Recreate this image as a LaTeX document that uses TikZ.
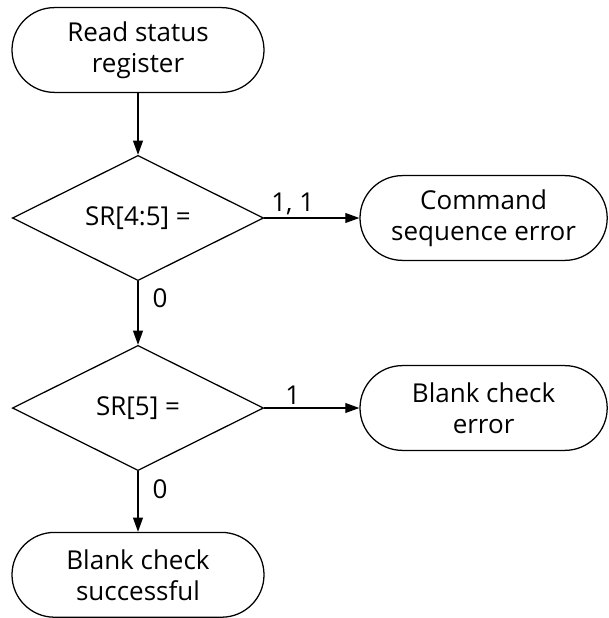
\documentclass[tikz,border=0pt]{standalone}
\usepackage{fontspec}
\setmainfont{Open Sans}
\usetikzlibrary{positioning, arrows.meta, calc, shapes.geometric}

\begin{document}
\begin{tikzpicture}[font=\fontsize{18.5}{22}\selectfont,
      term/.style={draw, line width=0.9pt, rounded corners=1.06cm, minimum width=6.3cm, minimum height=2.12cm, align=center, inner sep=0pt},
      decide/.style={draw, line width=0.9pt, diamond, aspect=2, minimum width=6.28cm, minimum height=3.13cm, inner sep=0pt},
      arr/.style={-{Triangle[length=10pt, width=7pt]}, line width=0.9pt},
      lbl/.style={inner sep=2pt}]
    \useasboundingbox (0,0) rectangle (15.2,-15.45);
    \node[term] (read) at (3.45,-1.25) {Read status\\register};
    \node[decide] (sr45) at (3.45,-5.45) {SR[4:5] =};
    \node[term, minimum width=6.18cm] (cmderr) at (12.09,-5.45) {Command\\sequence error};
    \node[decide] (sr5) at (3.45,-10.2) {SR[5] =};
    \node[term, minimum width=6.18cm] (blkerr) at (12.09,-10.2) {Blank check\\error};
    \node[term] (blkok) at (3.45,-14.37) {Blank check\\successful};
    \draw[arr] (read)--(sr45);
    \draw[arr] (sr45)--(cmderr) node[pos=0.3, above, lbl]{1, 1};
    \draw[arr] (sr45)--(sr5) node[pos=0.27, right=8pt, lbl]{0};
    \draw[arr] (sr5)--(blkerr) node[pos=0.3, above, lbl]{1};
    \draw[arr] (sr5)--(blkok) node[pos=0.3, right=8pt, lbl]{0};
  \end{tikzpicture}
\end{document}
